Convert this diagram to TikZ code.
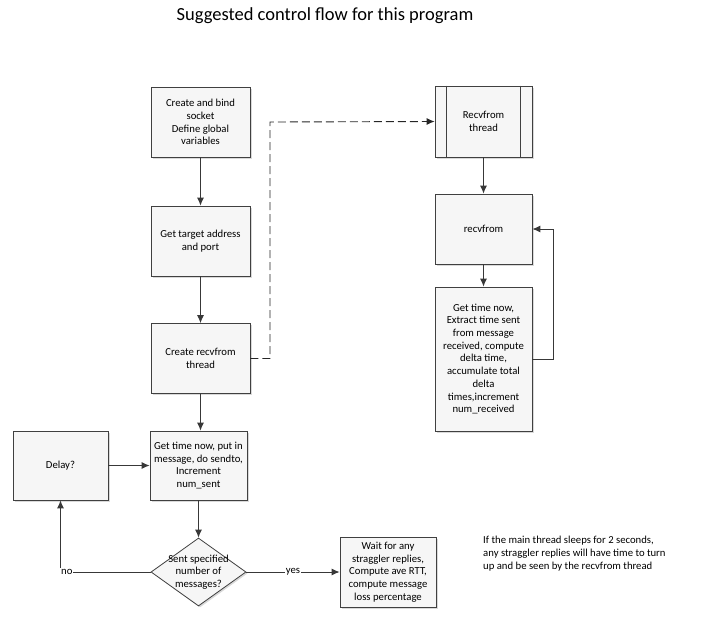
\documentclass[tikz,border=0pt]{standalone}
\usepackage{fontspec}
\setmainfont{Carlito}
\usetikzlibrary{arrows.meta,positioning,calc,shapes.geometric,shadows}
\tikzset{
  box/.style={draw=black!75,line width=0.8pt,fill=gray!7,minimum width=99pt,minimum height=70pt,
    align=center,inner sep=2pt,font=\fontsize{10.7}{12.7}\selectfont,
    drop shadow={shadow xshift=1.5pt,shadow yshift=-1.5pt,opacity=0.3}},
  decision/.style={draw=black!75,line width=0.8pt,fill=gray!7,diamond,minimum width=95pt,minimum height=68pt,inner sep=0pt,
    drop shadow={shadow xshift=1.5pt,shadow yshift=-1.5pt,opacity=0.3}},
  arr/.style={-{Latex[length=8pt,width=7pt]},draw=black!78,line width=0.9pt},
  lab/.style={fill=white,inner sep=1pt,font=\fontsize{10.7}{12}\selectfont}
}
\begin{document}
\begin{tikzpicture}[x=1pt,y=-1pt]
\useasboundingbox (0,0) rectangle (727,621);
\node (title) at (325,16) {\fontsize{18.5}{22}\selectfont Suggested control flow for this program};
% main thread
\node[box] (bind) at (200.5,122) {Create and bind\\socket\\Define global\\variables};
\node[box] (target) at (200.5,241) {Get target address\\and port};
\node[box] (create) at (200.5,358.5) {Create recvfrom\\thread};
\node[box,minimum width=97pt,minimum height=69pt] (send) at (198.5,465.5) {Get time now, put in\\message, do sendto,\\Increment\\num\_sent};
\node[box,minimum width=95pt,minimum height=69pt] (delay) at (60.5,465.5) {Delay?};
\node[decision,label={[align=center,font=\fontsize{10.7}{12.7}\selectfont]center:Sent specified\\number of\\messages?}] (check) at (198.5,572) {};
\node[box,minimum width=96pt] (wait) at (388,572) {Wait for any\\straggler replies,\\Compute ave RTT,\\compute message\\loss percentage};
% recvfrom thread
\node[box,minimum width=97pt,minimum height=71pt] (thread) at (483.5,121.5) {Recvfrom\\thread};
\draw[black!75,line width=0.8pt] ([xshift=12pt]thread.north west) -- ([xshift=12pt]thread.south west);
\draw[black!75,line width=0.8pt] ([xshift=-12pt]thread.north east) -- ([xshift=-12pt]thread.south east);
\node[box,minimum width=97pt] (recv) at (483.5,229) {recvfrom};
\node[box,minimum width=97pt,minimum height=144pt] (update) at (483.5,359) {Get time now,\\Extract time sent\\from message\\received, compute\\delta time,\\accumulate total\\delta\\times,increment\\num\_received};
\node[anchor=north west,align=left,inner sep=0pt,font=\fontsize{10.7}{13}\selectfont] (note) at (483,536)
  {If the main thread sleeps for 2 seconds,\\any straggler replies will have time to turn\\up and be seen by the recvfrom thread};
% connectors
\coordinate (dashbend) at (270,122);
\coordinate (loopbend) at (553,229);
\draw[arr] (bind) -- (target);
\draw[arr] (target) -- (create);
\draw[arr] (create.south) -- (create.south |- send.north);
\draw[arr] (send.south) -- (check.north);
\draw[arr] (delay) -- (send);
\draw[arr] (check.west) -- node[lab,pos=0.93]{no} (delay.south |- check.west) -- (delay.south);
\draw[arr] (check.east) -- node[lab]{yes} (wait.west);
\draw[arr,draw=black!85,dash pattern=on 8pt off 4pt] (create.east) -| (dashbend) -- (thread.west);
\draw[arr] (thread) -- (recv);
\draw[arr] (recv) -- (update);
\draw[arr] (update.east) -| (loopbend) -- (recv.east);
\end{tikzpicture}
\end{document}
